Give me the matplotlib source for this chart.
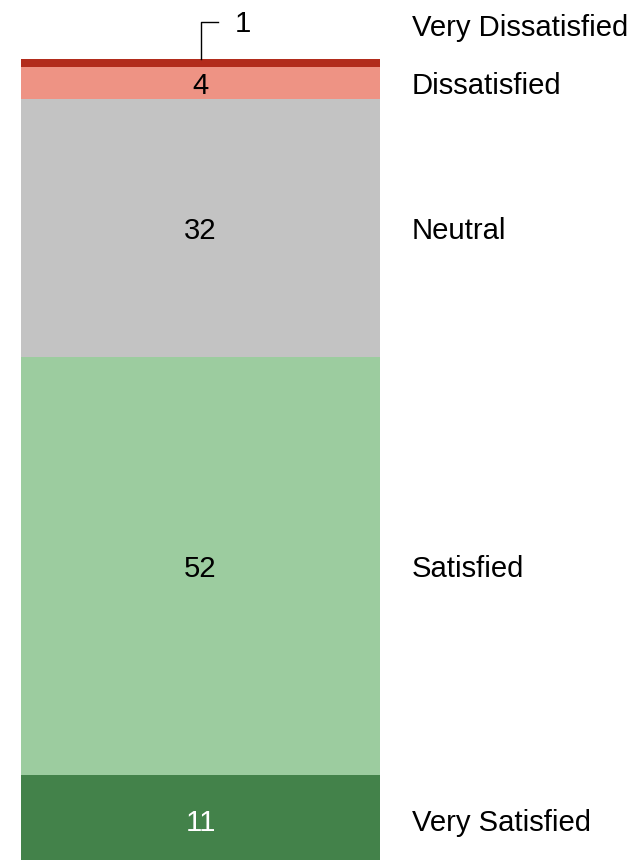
import matplotlib.pyplot as plt
import numpy as np

plt.rcParams['font.family'] = ['Liberation Sans', 'DejaVu Sans']

categories = ['Very Satisfied', 'Satisfied', 'Neutral', 'Dissatisfied', 'Very Dissatisfied']
values = [11, 52, 32, 4, 1]
colors = ['#43824A', '#9CCC9F', '#C3C3C3', '#EE9384', '#B22C1C']
text_colors = ['white', 'black', 'black', 'black', 'black']

fig = plt.figure(figsize=(6.32, 8.60), dpi=100)
# bar spans the whole axes; bottom runs slightly past the figure edge
ax = fig.add_axes([21 / 632, -4 / 860, 359 / 632, 805 / 860])

bottoms = np.concatenate([[0], np.cumsum(values)[:-1]])
ax.bar(0, values, bottom=bottoms, width=1.0, color=colors, linewidth=0)
ax.set_xlim(-0.5, 0.5)
ax.set_ylim(0, sum(values))
ax.axis('off')

fs = 21.1
label_x = 0.589
dy = -0.35  # nudge text down a little from the segment centre
for cat, v, b, tc in zip(categories, values, bottoms, text_colors):
    mid = b + v / 2 + dy
    if v >= 3:
        ax.text(0, mid, str(v), ha='center', va='center', fontsize=fs, color=tc)
        ax.text(label_x, mid, cat, ha='left', va='center', fontsize=fs, color='black')
    else:
        # small segment: label sits above the bar with a leader line
        top = b + v
        ly = 104.6
        ax.plot([0, 0, 0.05], [top, ly, ly], color='black', lw=1, clip_on=False)
        ax.text(0.118, ly - 0.3, str(v), ha='center', va='center', fontsize=fs, color='black')
        ax.text(label_x, ly - 0.8, cat, ha='left', va='center', fontsize=fs, color='black')

fig.savefig('out.png', dpi=100)
